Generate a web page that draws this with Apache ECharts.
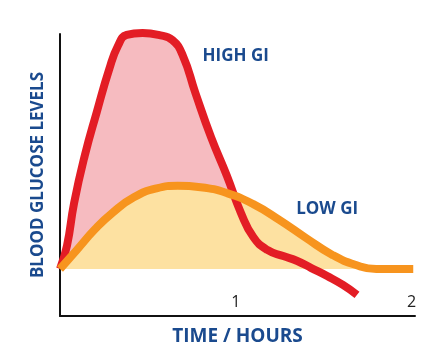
<!DOCTYPE html>
<html>
<head>
<meta charset="utf-8">
<title>Glycemic index</title>
<script src="https://cdn.jsdelivr.net/npm/echarts@6/dist/echarts.min.js"></script>
<style>
  html, body { margin: 0; padding: 0; background: #fff; }
  #chart { width: 446px; height: 351px; }
</style>
</head>
<body>
<div id="chart"></div>
<script>
// time in hours, glucose level relative to the fasting baseline (0)
const highGiTime = [0, 0.04, 0.08, 0.14, 0.21, 0.28, 0.33, 0.38, 0.47, 0.56, 0.64, 0.70, 0.77, 0.86, 0.95, 1.03, 1.10, 1.18, 1.27, 1.35, 1.43, 1.52, 1.61, 1.69]
const highGiLevel = [0, 10, 28, 48, 67, 85, 95, 99.6, 100.4, 99.6, 97.4, 90.6, 75, 56, 39.6, 23.8, 13.6, 8.1, 5.5, 3.4, 0.4, -3, -6.8, -11]

const lowGiTime = [0, 0.1, 0.2, 0.3, 0.42, 0.55, 0.67, 0.8, 0.95, 1.1, 1.25, 1.4, 1.55, 1.68, 1.8, 2.01]
const lowGiLevel = [0, 8.5, 17, 24, 30.5, 34.3, 35.4, 34.8, 32.3, 27.6, 20.8, 13.2, 6, 1.8, 0, 0]

const timeTicks = [1, 2]
const seriesNames = ['HIGH GI', 'LOW GI']

const navy = '#1a4a8e'
const font = 'Open Sans'

const pair = (xs, ys) => xs.map((x, i) => [x, ys[i]])
const highGi = pair(highGiTime, highGiLevel)
// the pink area stops at the baseline, the tail under it stays white
const highGiFill = pair(highGiTime, highGiLevel.map(v => Math.max(v, 0)))
const lowGi = pair(lowGiTime, lowGiLevel)

const chart = echarts.init(document.getElementById('chart'), null, { renderer: 'canvas' })

const textLabel = (text) => ({
  symbol: 'circle',
  symbolSize: 0,
  label: {
    show: true,
    position: 'inside',
    formatter: text,
    color: navy,
    fontFamily: font,
    fontWeight: 'bold',
    fontSize: 17
  }
})

chart.setOption({
  animation: false,
  grid: { left: 60, right: 31, top: 34, bottom: 35 },
  xAxis: {
    type: 'value',
    min: 0,
    max: 2.02,
    interval: 1,
    name: 'TIME / HOURS',
    nameLocation: 'middle',
    nameGap: 11,
    nameTextStyle: { color: navy, fontFamily: font, fontWeight: 'bold', fontSize: 19 },
    axisLine: { onZero: false, lineStyle: { color: '#111', width: 2 } },
    axisTick: { show: false },
    splitLine: { show: false },
    axisLabel: {
      inside: true,
      margin: 6,
      color: '#222',
      fontFamily: font,
      fontSize: 16,
      formatter: v => (timeTicks.includes(v) ? String(v) : '')
    }
  },
  yAxis: {
    type: 'value',
    min: -20,
    max: 100,
    name: 'BLOOD GLUCOSE LEVELS',
    nameLocation: 'middle',
    nameRotate: 90,
    nameGap: 13,
    nameTextStyle: { color: navy, fontFamily: font, fontWeight: 'bold', fontSize: 17 },
    axisLine: { show: true, lineStyle: { color: '#111', width: 2 } },
    axisTick: { show: false },
    axisLabel: { show: false },
    splitLine: { show: false }
  },
  series: [
    {
      name: seriesNames[0] + ' area',
      type: 'line',
      data: highGiFill,
      smooth: true,
      symbol: 'none',
      silent: true,
      z: 1,
      lineStyle: { width: 0 },
      areaStyle: { color: '#f6bbc0', opacity: 1 }
    },
    {
      name: seriesNames[1] + ' area',
      type: 'line',
      data: lowGi,
      smooth: true,
      symbol: 'none',
      silent: true,
      z: 2,
      lineStyle: { width: 0 },
      areaStyle: { color: '#fde1a1', opacity: 1 }
    },
    {
      name: seriesNames[0],
      type: 'line',
      data: highGi,
      smooth: true,
      symbol: 'none',
      clip: false,
      z: 3,
      lineStyle: { color: '#e31d25', width: 8 },
      markPoint: Object.assign(textLabel(seriesNames[0]), {
        data: [{ coord: [1.0, 90.5] }]
      })
    },
    {
      name: seriesNames[1],
      type: 'line',
      data: lowGi,
      smooth: true,
      symbol: 'none',
      clip: false,
      z: 4,
      lineStyle: { color: '#f7941e', width: 8 },
      markPoint: Object.assign(textLabel(seriesNames[1]), {
        data: [{ coord: [1.52, 25.5] }]
      })
    }
  ]
})
</script>
</body>
</html>
